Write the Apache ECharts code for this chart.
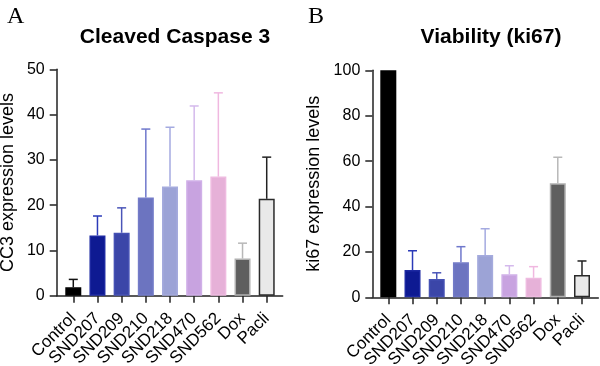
<!DOCTYPE html>
<html>
<head>
<meta charset="utf-8">
<script src="https://cdn.jsdelivr.net/npm/echarts@6/dist/echarts.min.js"></script>
<style>
  html, body { margin: 0; padding: 0; background: #fff; }
  #chart { width: 600px; height: 366px; }
</style>
</head>
<body>
<div id="chart"></div>
<script>
// groups on the x axis
var categories = ['Control', 'SND207', 'SND209', 'SND210', 'SND218', 'SND470', 'SND562', 'Dox', 'Pacli'];

// panel A: cleaved caspase 3 (mean and upper error)
var cc3Mean = [1.85, 13.3, 13.9, 21.7, 24.1, 25.5, 26.3, 8.2, 21.4];
var cc3Err  = [1.75, 4.3, 5.5, 15.1, 13.1, 16.4, 18.5, 3.4, 9.2];

// panel B: ki67 (mean and upper error)
var ki67Mean = [100, 12.0, 8.1, 15.4, 18.6, 10.1, 8.6, 50.2, 9.8];
var ki67Err  = [0, 8.5, 2.7, 6.9, 11.6, 3.8, 4.9, 11.5, 6.2];

// colours per group
var fillColors   = ['#000000', '#0e1a92', '#3b46a8', '#6c74c0', '#9ca3d6', '#c8a3e0', '#e6b1d8', '#5f5f5f', '#e9e9e9'];
var borderColors = ['#000000', '#1d29a2', '#4551b4', '#737bc8', '#a5abdd', '#d0b0e8', '#eebbe0', '#b0b0b0', '#2a2a2a'];
var errColors    = ['#111111', '#2b3ab8', '#4a55b8', '#6f78cc', '#a4aae0', '#d4b9ec', '#f0b8e0', '#b8b8b8', '#222222'];

var axisColor = '#222';
var font = 'Liberation Sans, Arial, Helvetica, sans-serif';

function barData(means) {
    return means.map(function(v, i) {
        return {
            value: v,
            itemStyle: {
                color: fillColors[i],
                borderColor: borderColors[i],
                borderWidth: 1.5
            }
        };
    });
}

function errData(means, errs) {
    return means.map(function(v, i) {
        return [i, v, v + errs[i]];
    });
}

function renderErr(params, api) {
    var idx = api.value(0);
    if (api.value(2) <= api.value(1)) {
        return null;
    }
    var lo = api.coord([idx, api.value(1)]);
    var hi = api.coord([idx, api.value(2)]);
    var half = 4.5;
    var style = { stroke: errColors[idx], lineWidth: 1.5, fill: null };
    return {
        type: 'group',
        children: [
            { type: 'line', shape: { x1: lo[0], y1: lo[1], x2: hi[0], y2: hi[1] }, style: style },
            { type: 'line', shape: { x1: hi[0] - half, y1: hi[1], x2: hi[0] + half, y2: hi[1] }, style: style }
        ]
    };
}

// outer grid only carries the long axis lines, inner grid carries the bars
function outerX(gridIndex) {
    return {
        gridIndex: gridIndex, type: 'value', min: 0, max: 1,
        axisLine: { show: true, lineStyle: { color: axisColor, width: 1.5 } },
        axisTick: { show: false }, axisLabel: { show: false }, splitLine: { show: false }
    };
}

function innerX(gridIndex) {
    return {
        gridIndex: gridIndex, type: 'category', data: categories,
        axisLine: { show: false },
        axisTick: { show: true, alignWithLabel: true, length: 7, lineStyle: { color: axisColor, width: 1.5 } },
        axisLabel: { interval: 0, rotate: 45, margin: 20, fontSize: 17, color: '#000', fontFamily: font }
    };
}

function outerY(gridIndex, max, interval, name, gap) {
    return {
        gridIndex: gridIndex, type: 'value', min: 0, max: max, interval: interval,
        name: name, nameLocation: 'middle', nameGap: gap,
        nameTextStyle: { fontSize: 18, color: '#000', fontFamily: font },
        axisLine: { show: true, lineStyle: { color: axisColor, width: 1.5 } },
        axisTick: { show: true, length: 7, lineStyle: { color: axisColor, width: 1.5 } },
        axisLabel: { fontSize: 16, color: '#000', margin: 12, fontFamily: font },
        splitLine: { show: false }
    };
}

function innerY(gridIndex, max) {
    return { gridIndex: gridIndex, type: 'value', min: 0, max: max, show: false, splitLine: { show: false } };
}

var chart = echarts.init(document.getElementById('chart'), null, { renderer: 'canvas' });

var option = {
    animation: false,
    backgroundColor: '#fff',
    title: [
        { text: 'A', left: 2, top: 0, textStyle: { fontFamily: 'Liberation Serif, Times New Roman, serif', fontSize: 24, fontWeight: 'normal', color: '#000' } },
        { text: 'B', left: 303, top: 0, textStyle: { fontFamily: 'Liberation Serif, Times New Roman, serif', fontSize: 24, fontWeight: 'normal', color: '#000' } },
        { text: 'Cleaved Caspase 3', left: 170, top: 22, textAlign: 'center', textStyle: { fontFamily: font, fontSize: 21, fontWeight: 'bold', color: '#000' } },
        { text: 'Viability (ki67)', left: 486, top: 22, textAlign: 'center', textStyle: { fontFamily: font, fontSize: 21, fontWeight: 'bold', color: '#000' } }
    ],
    grid: [
        { left: 56.7, top: 69.3, width: 226, height: 226.4, outerBoundsMode: 'none' },
        { left: 61.2, top: 69.3, width: 217.6, height: 226.4, outerBoundsMode: 'none' },
        { left: 372.3, top: 70.3, width: 226, height: 227, outerBoundsMode: 'none' },
        { left: 376.2, top: 70.3, width: 217.9, height: 227, outerBoundsMode: 'none' }
    ],
    xAxis: [outerX(0), innerX(1), outerX(2), innerX(3)],
    yAxis: [
        outerY(0, 50, 10, 'CC3 expression levels', 40),
        innerY(1, 50),
        outerY(2, 100, 20, 'ki67 expression levels', 49),
        innerY(3, 100)
    ],
    series: [
        { type: 'bar', xAxisIndex: 1, yAxisIndex: 1, barWidth: 16, data: barData(cc3Mean) },
        { type: 'custom', xAxisIndex: 1, yAxisIndex: 1, z: 3, renderItem: renderErr, data: errData(cc3Mean, cc3Err) },
        { type: 'bar', xAxisIndex: 3, yAxisIndex: 3, barWidth: 16, data: barData(ki67Mean) },
        { type: 'custom', xAxisIndex: 3, yAxisIndex: 3, z: 3, renderItem: renderErr, data: errData(ki67Mean, ki67Err) }
    ]
};

chart.setOption(option);
</script>
</body>
</html>
